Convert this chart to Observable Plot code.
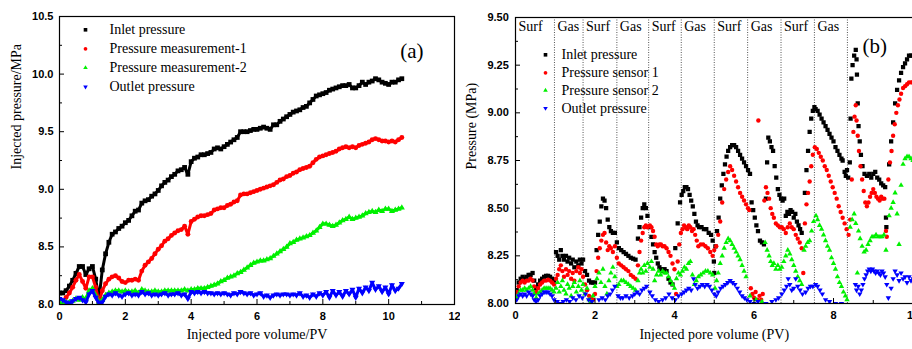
<!DOCTYPE html>
<html>
<head>
<meta charset="utf-8">
<script src="https://cdn.jsdelivr.net/npm/d3@7"></script>
<script src="https://cdn.jsdelivr.net/npm/@observablehq/plot@0.6"></script>
<style>
  html, body { margin: 0; padding: 0; background: #fff; overflow: hidden; }
  #wrap { position: relative; width: 912px; height: 349px; overflow: hidden; background: #fff; }
  #pa { position: absolute; left: 0; top: 0; width: 460px; }
  #pb { position: absolute; left: 460px; top: 0; width: 470px; }
  #wrap svg { max-width: none !important; }
  #wrap g[aria-label="x-axis tick label"] text,
  #wrap g[aria-label="y-axis tick label"] text {
    font-family: 'Liberation Sans', Arial, sans-serif; font-size: 11px; font-weight: bold; fill: #000;
  }
</style>
</head>
<body>
<div id="wrap"><div id="pa"></div><div id="pb"></div></div>
<script>
// ---------- Panel (a): continuous injection ----------
const pvA = [
  0.0,0.1,0.2,0.3,0.4,0.5,0.6,0.7,0.8,0.9,
  1.0,1.1,1.2,1.3,1.4,1.5,1.6,1.7,1.8,1.9,
  2.0,2.1,2.2,2.3,2.4,2.5,2.6,2.7,2.8,2.9,
  3.0,3.1,3.2,3.3,3.4,3.5,3.6,3.7,3.8,3.9,
  4.0,4.1,4.2,4.3,4.4,4.5,4.6,4.7,4.8,4.9,
  5.0,5.1,5.2,5.3,5.4,5.5,5.6,5.7,5.8,5.9,
  6.0,6.1,6.2,6.3,6.4,6.5,6.6,6.7,6.8,6.9,
  7.0,7.1,7.2,7.3,7.4,7.5,7.6,7.7,7.8,7.9,
  8.0,8.1,8.2,8.3,8.4,8.5,8.6,8.7,8.8,8.9,
  9.0,9.1,9.2,9.3,9.4,9.5,9.6,9.7,9.8,9.9,
  10.0,10.1,10.2,10.3,10.4
];
const inletA = [
  8.10,8.10,8.12,8.16,8.21,8.27,8.33,8.33,8.26,8.31,
  8.33,8.22,8.05,8.30,8.44,8.54,8.61,8.63,8.66,8.68,
  8.71,8.73,8.77,8.81,8.82,8.88,8.90,8.91,8.94,8.96,
  8.99,9.03,9.06,9.08,9.11,9.13,9.16,9.17,9.19,9.13,
  9.24,9.27,9.28,9.30,9.30,9.31,9.32,9.35,9.36,9.35,
  9.37,9.39,9.41,9.43,9.45,9.50,9.50,9.50,9.51,9.52,
  9.52,9.53,9.54,9.53,9.52,9.56,9.56,9.59,9.61,9.63,
  9.65,9.67,9.68,9.69,9.71,9.72,9.75,9.78,9.81,9.82,
  9.83,9.84,9.86,9.87,9.88,9.89,9.90,9.90,9.91,9.88,
  9.88,9.90,9.93,9.91,9.93,9.94,9.96,9.95,9.93,9.92,
  9.91,9.93,9.93,9.95,9.96
];
const meas1A = [
  null,null,8.06,8.10,8.15,8.21,8.26,8.20,8.14,8.24,
  8.24,8.15,8.02,8.12,8.18,8.22,8.24,8.25,8.23,8.20,
  8.19,8.21,8.21,8.22,8.21,8.29,8.34,8.37,8.40,8.44,
  8.48,8.51,8.55,8.57,8.60,8.62,8.64,8.65,8.68,8.61,
  8.72,8.74,8.76,8.77,8.77,8.78,8.79,8.82,8.83,8.84,
  8.84,8.86,8.87,8.89,8.90,8.95,8.96,8.96,8.97,8.98,
  8.99,9.00,9.01,9.02,9.03,9.04,9.06,9.08,9.09,9.11,
  9.12,9.14,9.15,9.17,9.18,9.19,9.20,9.23,9.26,9.28,
  9.29,9.30,9.31,9.32,9.33,9.35,9.36,9.37,9.36,9.37,
  9.36,9.38,9.39,9.40,9.41,9.43,9.44,9.43,9.42,9.42,
  9.41,9.42,9.41,9.43,9.45
];
const meas2A = [
  8.02,8.01,8.02,8.02,8.03,8.05,8.04,8.06,8.05,8.12,
  8.14,8.08,8.02,8.04,8.08,8.10,8.11,8.12,8.12,8.11,
  8.12,8.11,8.11,8.12,8.10,8.13,8.12,8.11,8.11,8.12,
  8.11,8.11,8.12,8.12,8.12,8.12,8.12,8.12,8.13,8.12,
  8.13,8.13,8.14,8.14,8.14,8.15,8.16,8.17,8.18,8.20,
  8.21,8.23,8.24,8.25,8.27,8.28,8.30,8.32,8.34,8.36,
  8.37,8.38,8.38,8.39,8.40,8.42,8.44,8.46,8.48,8.50,
  8.53,8.54,8.56,8.57,8.58,8.59,8.60,8.62,8.64,8.67,
  8.70,8.70,8.69,8.68,8.69,8.71,8.73,8.74,8.76,8.74,
  8.75,8.76,8.77,8.79,8.80,8.81,8.80,8.82,8.81,8.83,
  8.83,8.81,8.82,8.83,8.84
];
const outletA = [
  8.05,8.04,8.02,8.01,8.03,8.05,8.06,8.04,8.02,8.09,
  8.12,8.06,8.01,8.02,8.07,8.09,8.08,8.10,8.08,8.07,
  8.09,8.10,8.08,8.09,8.08,8.11,8.09,8.10,8.08,8.09,
  8.08,8.09,8.10,8.08,8.09,8.09,8.10,8.08,8.09,8.05,
  8.11,8.10,8.11,8.10,8.11,8.10,8.10,8.09,8.10,8.09,
  8.10,8.09,8.08,8.10,8.09,8.11,8.10,8.09,8.10,8.08,
  8.09,8.10,8.07,8.08,8.06,8.08,8.09,8.08,8.09,8.09,
  8.08,8.09,8.08,8.10,8.07,8.08,8.06,8.09,8.07,8.10,
  8.08,8.11,8.06,8.12,8.08,8.11,8.07,8.12,8.09,8.13,
  8.06,8.14,8.10,8.15,8.12,8.19,8.13,8.16,8.11,8.15,
  8.09,8.17,8.12,8.14,8.18
];
const namesA = ["Inlet pressure", "Pressure measurement-1", "Pressure measurement-2", "Outlet pressure"];
const xTicksA = [0, 2, 4, 6, 8, 10, 12];
const xMinorA = [1, 3, 5, 7, 9, 11];
const yTicksA = [8.0, 8.5, 9.0, 9.5, 10.0, 10.5];
const yMinorA = [8.25, 8.75, 9.25, 9.75, 10.25];

// ---------- Panel (b): alternating surfactant / gas slugs ----------
const inletB = [
  [0.03,8.07],[0.08,8.11],[0.13,8.13],[0.18,8.14],[0.23,8.13],[0.28,8.14],[0.33,8.15],[0.38,8.15],[0.43,8.16],[0.47,8.12],
  [0.52,8.08],[0.57,8.10],[0.62,8.12],[0.67,8.13],[0.72,8.14],[0.77,8.145],[0.82,8.145],[0.87,8.14],[0.92,8.13],[0.97,8.12],
  [1.02,8.27],[1.06,8.25],[1.10,8.23],[1.14,8.28],[1.18,8.25],[1.22,8.23],[1.27,8.25],[1.31,8.22],[1.35,8.24],[1.40,8.21],
  [1.44,8.23],[1.48,8.19],[1.53,8.22],[1.58,8.20],[1.62,8.23],[1.66,8.21],[1.70,8.23],
  [1.75,8.17],[1.80,8.15],[1.85,8.12],[1.90,8.11],[1.95,8.11],[2.00,8.11],[2.04,8.28],[2.08,8.36],[2.12,8.43],[2.16,8.51],
  [2.20,8.55],[2.24,8.54],[2.28,8.50],[2.32,8.44],[2.36,8.40],[2.40,8.38],[2.45,8.37],[2.50,8.37],
  [2.55,8.32],[2.60,8.29],[2.66,8.28],[2.72,8.27],[2.78,8.26],[2.84,8.25],[2.90,8.24],[2.96,8.235],[3.02,8.23],[3.08,8.34],
  [3.12,8.40],[3.16,8.45],[3.20,8.50],[3.24,8.52],[3.28,8.50],[3.32,8.46],
  [3.38,8.40],[3.42,8.35],[3.46,8.31],[3.50,8.27],[3.54,8.24],[3.58,8.21],[3.62,8.19],[3.66,8.18],[3.70,8.17],[3.75,8.18],
  [3.80,8.17],[3.85,8.13],[3.90,8.11],[3.95,8.10],[4.02,8.29],[4.08,8.42],
  [4.14,8.53],[4.18,8.57],[4.22,8.59],[4.26,8.61],[4.30,8.61],[4.34,8.60],[4.38,8.57],[4.42,8.54],[4.46,8.51],[4.50,8.47],
  [4.54,8.43],[4.58,8.41],[4.62,8.40],[4.68,8.40],[4.74,8.39],[4.80,8.39],[4.86,8.37],[4.92,8.36],[4.96,8.33],[4.99,8.22],[5.00,8.16],
  [5.03,8.30],[5.07,8.38],[5.11,8.45],[5.15,8.55],[5.19,8.62],[5.23,8.68],[5.27,8.73],[5.31,8.77],[5.35,8.80],[5.40,8.82],
  [5.45,8.83],[5.50,8.83],[5.55,8.82],[5.60,8.80],[5.65,8.78],[5.70,8.76],[5.75,8.74],[5.80,8.72],[5.85,8.70],[5.90,8.68],
  [5.94,8.53],[5.98,8.49],[6.02,8.45],[6.06,8.41],[6.10,8.38],[6.15,8.33],[6.20,8.32],[6.25,8.31],[6.30,8.55],[6.33,8.74],
  [6.36,8.87],[6.40,8.85],[6.44,8.82],[6.48,8.80],[6.52,8.72],[6.56,8.66],[6.60,8.60],[6.64,8.57],[6.68,8.55],[6.72,8.54],[6.76,8.55],
  [6.80,8.46],[6.84,8.48],[6.88,8.47],[6.92,8.49],[6.96,8.48],[7.00,8.45],[7.04,8.47],[7.08,8.43],[7.12,8.41],[7.16,8.39],
  [7.20,8.37],[7.28,8.58],[7.32,8.70],[7.36,8.80],[7.40,8.90],[7.44,8.97],[7.48,9.01],[7.52,9.03],
  [7.55,9.02],[7.60,9.01],[7.65,8.99],[7.70,8.97],[7.75,8.95],[7.80,8.93],[7.85,8.91],[7.90,8.89],[7.95,8.87],[8.00,8.85],
  [8.05,8.82],[8.10,8.80],[8.15,8.78],[8.20,8.76],[8.23,8.75],[8.28,8.69],[8.31,8.67],[8.34,8.70],[8.37,8.66],
  [8.41,8.74],[8.43,8.97],[8.45,9.18],[8.48,9.25],[8.52,9.30],[8.56,9.33],[8.58,9.28],[8.59,9.20],[8.61,9.05],[8.63,8.93],
  [8.66,8.85],[8.69,8.78],[8.73,8.72],[8.78,8.68],[8.84,8.67],[8.90,8.68],[8.95,8.66],[9.00,8.68],[9.05,8.69],[9.10,8.66],
  [9.15,8.65],[9.20,8.63],[9.25,8.62],[9.30,8.61],[9.32,8.45],[9.33,8.40],
  [9.40,8.73],[9.45,8.85],[9.50,8.95],[9.55,9.05],[9.60,9.12],[9.65,9.17],[9.70,9.21],[9.75,9.24],[9.80,9.26],[9.85,9.28],
  [9.90,9.30],[9.95,9.30],[10.00,9.30]
];
const sensor1B = [
  [0.03,8.06],[0.08,8.09],[0.13,8.11],[0.18,8.12],[0.23,8.11],[0.28,8.12],[0.33,8.12],[0.38,8.13],[0.43,8.12],[0.47,8.09],
  [0.52,8.06],[0.57,8.08],[0.62,8.10],[0.67,8.11],[0.72,8.12],[0.77,8.12],[0.82,8.125],[0.87,8.12],[0.92,8.11],[0.97,8.10],
  [1.02,8.13],[1.06,8.15],[1.10,8.18],[1.14,8.20],[1.18,8.17],[1.22,8.14],[1.27,8.18],[1.31,8.15],[1.35,8.17],[1.40,8.13],
  [1.44,8.16],[1.48,8.12],[1.53,8.17],[1.58,8.19],[1.62,8.16],[1.66,8.18],[1.70,8.14],
  [1.75,8.10],[1.80,8.07],[1.85,8.04],[1.90,8.03],[1.95,8.02],[2.00,8.05],[2.04,8.17],[2.08,8.24],[2.12,8.29],[2.16,8.33],
  [2.20,8.36],[2.24,8.37],[2.28,8.32],[2.32,8.28],[2.36,8.30],[2.40,8.29],[2.45,8.27],[2.50,8.30],
  [2.55,8.24],[2.60,8.21],[2.66,8.20],[2.72,8.19],[2.78,8.18],[2.84,8.17],[2.90,8.15],[2.96,8.14],[3.02,8.13],[3.08,8.20],
  [3.12,8.27],[3.16,8.33],[3.20,8.37],[3.24,8.40],[3.28,8.41],[3.32,8.40],
  [3.38,8.41],[3.42,8.40],[3.46,8.38],[3.50,8.35],[3.54,8.31],[3.58,8.30],[3.62,8.31],[3.66,8.31],[3.70,8.30],[3.75,8.30],
  [3.80,8.29],[3.85,8.27],[3.90,8.25],[3.95,8.21],[4.00,8.18],[4.04,8.05],[4.08,8.22],[4.12,8.31],
  [4.16,8.37],[4.20,8.39],[4.24,8.41],[4.28,8.40],[4.32,8.39],[4.36,8.41],[4.40,8.40],[4.44,8.38],[4.48,8.39],[4.52,8.36],
  [4.56,8.33],[4.60,8.30],[4.66,8.31],[4.72,8.31],[4.78,8.30],[4.84,8.29],[4.90,8.27],[4.96,8.25],[5.00,8.28],
  [5.05,8.30],[5.10,8.36],[5.15,8.43],[5.20,8.53],[5.25,8.60],[5.30,8.65],[5.35,8.69],[5.40,8.72],[5.45,8.70],[5.50,8.67],
  [5.55,8.64],[5.60,8.61],[5.65,8.58],[5.70,8.56],[5.75,8.54],[5.80,8.52],[5.85,8.50],[5.88,8.49],
  [5.92,8.08],[5.96,8.05],[6.00,8.03],[6.04,8.06],[6.08,8.02],[6.11,8.96],[6.14,8.04],[6.18,8.02],[6.22,8.05],
  [6.26,8.54],[6.30,8.61],[6.34,8.58],[6.38,8.55],[6.42,8.50],[6.46,8.47],[6.50,8.45],[6.55,8.42],[6.60,8.41],[6.65,8.40],
  [6.70,8.40],[6.75,8.39],[6.80,8.37],[6.85,8.40],[6.90,8.42],[6.95,8.40],[7.00,8.39],[7.05,8.36],[7.10,8.34],[7.15,8.32],
  [7.20,8.29],[7.24,8.16],[7.28,8.42],[7.32,8.52],[7.36,8.58],[7.40,8.64],[7.44,8.72],[7.48,8.78],[7.53,8.82],
  [7.58,8.81],[7.63,8.79],[7.68,8.77],[7.73,8.75],[7.78,8.72],[7.83,8.70],[7.88,8.67],[7.93,8.64],[7.98,8.61],[8.03,8.58],
  [8.08,8.55],[8.13,8.51],[8.18,8.48],[8.23,8.45],[8.28,8.42],[8.33,8.39],[8.38,8.36],[8.42,8.44],[8.46,8.65],
  [8.50,8.90],[8.53,8.98],[8.56,9.04],[8.58,8.96],[8.61,8.88],[8.64,8.80],[8.68,8.72],[8.72,8.65],[8.76,8.59],[8.80,8.53],
  [8.84,8.51],[8.88,8.53],[8.92,8.56],[8.96,8.58],[9.00,8.60],[9.04,8.58],[9.08,8.56],[9.12,8.55],[9.16,8.54],[9.20,8.56],
  [9.24,8.55],[9.28,8.55],[9.32,8.38],[9.34,8.35],
  [9.38,8.65],[9.42,8.74],[9.46,8.80],[9.50,8.88],[9.54,8.94],[9.58,9.00],[9.62,9.04],[9.66,9.07],[9.70,9.10],[9.75,9.13],
  [9.80,9.14],[9.85,9.15],[9.90,9.16],[9.95,9.16],[10.00,9.16]
];
const sensor2B = [
  [0.03,8.03],[0.08,8.05],[0.13,8.07],[0.18,8.07],[0.23,8.08],[0.28,8.07],[0.33,8.08],[0.38,8.09],[0.43,8.07],[0.47,8.05],
  [0.52,8.03],[0.57,8.05],[0.62,8.06],[0.67,8.07],[0.72,8.08],[0.77,8.08],[0.82,8.08],[0.87,8.08],[0.92,8.07],[0.97,8.06],
  [1.02,8.08],[1.06,8.11],[1.10,8.06],[1.14,8.09],[1.18,8.12],[1.22,8.07],[1.27,8.05],[1.31,8.10],[1.35,8.08],[1.40,8.04],
  [1.44,8.09],[1.48,8.11],[1.53,8.06],[1.58,8.09],[1.62,8.12],[1.66,8.07],[1.70,8.10],
  [1.75,8.05],[1.80,8.08],[1.85,8.02],[1.90,8.01],[1.95,8.04],[2.00,8.09],[2.05,8.13],[2.10,8.16],[2.15,8.11],[2.20,8.18],
  [2.25,8.09],[2.30,8.05],[2.35,8.12],[2.40,8.16],[2.45,8.19],[2.50,8.14],
  [2.55,8.09],[2.60,8.10],[2.66,8.12],[2.72,8.12],[2.78,8.11],[2.84,8.10],[2.90,8.09],[2.96,8.08],[3.02,8.07],[3.08,8.12],
  [3.12,8.16],[3.16,8.18],[3.20,8.16],[3.24,8.20],[3.28,8.17],[3.32,8.21],
  [3.38,8.19],[3.42,8.22],[3.46,8.18],[3.50,8.12],[3.55,8.15],[3.60,8.17],[3.65,8.15],[3.70,8.17],[3.75,8.16],[3.80,8.16],
  [3.85,8.14],[3.90,8.12],[3.95,8.10],[4.00,8.08],[4.05,8.13],[4.10,8.16],
  [4.15,8.15],[4.20,8.17],[4.25,8.19],[4.30,8.18],[4.35,8.21],[4.40,8.22],[4.45,8.15],[4.50,8.10],[4.55,8.12],[4.60,8.14],
  [4.66,8.15],[4.72,8.16],[4.78,8.17],[4.84,8.17],[4.90,8.16],[4.96,8.15],
  [5.02,8.08],[5.06,8.12],[5.10,8.16],[5.15,8.21],[5.20,8.25],[5.25,8.29],[5.30,8.32],[5.35,8.34],[5.40,8.33],[5.45,8.31],
  [5.50,8.29],[5.55,8.27],[5.60,8.25],[5.65,8.23],[5.70,8.20],[5.75,8.17],[5.80,8.14],
  [5.90,8.04],[6.05,8.02],[6.20,8.01],[6.28,8.32],[6.33,8.28],[6.38,8.25],[6.42,8.22],[6.46,8.20],[6.50,8.21],[6.55,8.18],
  [6.60,8.20],[6.65,8.18],
  [6.70,8.19],[6.75,8.22],[6.80,8.25],[6.85,8.28],[6.90,8.26],[6.95,8.23],[7.00,8.20],[7.05,8.17],[7.10,8.14],[7.15,8.12],
  [7.20,8.10],[7.26,8.28],[7.30,8.30],[7.35,8.32],[7.40,8.33],[7.45,8.38],[7.50,8.43],
  [7.56,8.46],[7.60,8.44],[7.65,8.41],[7.70,8.39],[7.75,8.36],[7.80,8.33],[7.85,8.30],[7.90,8.28],[7.95,8.24],[8.00,8.21],
  [8.05,8.18],[8.10,8.14],[8.15,8.11],[8.20,8.09],[8.25,8.06],[8.30,8.04],[8.34,8.02],
  [8.42,8.40],[8.47,8.44],[8.52,8.47],[8.56,8.42],[8.60,8.16],[8.63,8.38],[8.67,8.34],[8.72,8.30],[8.77,8.27],[8.82,8.28],
  [8.87,8.31],[8.92,8.33],[8.97,8.35],[9.02,8.35],[9.07,8.36],[9.12,8.35],[9.17,8.35],[9.22,8.35],[9.27,8.36],[9.32,8.28],
  [9.40,8.46],[9.45,8.50],[9.50,8.53],[9.55,8.58],[9.60,8.47],[9.65,8.31],[9.70,8.62],[9.75,8.73],[9.80,8.76],[9.85,8.77],
  [9.90,8.77],[9.95,8.76],[10.00,8.75]
];
const outletB = [
  [0.03,8.02],[0.08,8.04],[0.13,8.05],[0.18,8.04],[0.23,8.05],[0.28,8.04],[0.33,8.06],[0.38,8.05],[0.43,8.04],[0.47,8.02],
  [0.52,8.01],[0.57,8.02],[0.62,8.04],[0.67,8.05],[0.72,8.06],[0.77,8.06],[0.82,8.06],[0.87,8.05],[0.92,8.04],[0.97,8.02],
  [1.05,8.01],[1.12,8.00],[1.20,8.01],[1.28,8.02],[1.36,8.01],[1.44,8.03],[1.52,8.02],[1.60,8.04],[1.68,8.03],
  [1.76,8.05],[1.84,8.02],[1.92,8.01],[2.10,8.02],[2.18,8.03],[2.26,8.02],[2.32,8.04],[2.38,8.05],[2.44,8.07],[2.50,8.09],
  [2.58,8.04],[2.64,8.03],[2.70,8.03],[2.78,8.04],[2.86,8.03],[2.94,8.04],[3.00,8.05],[3.06,8.06],[3.12,8.05],[3.18,8.07],
  [3.24,8.08],[3.30,8.09],
  [3.38,8.06],[3.44,8.04],[3.52,8.02],[3.60,8.01],[3.70,8.02],[3.78,8.03],[3.86,8.05],[3.94,8.03],[4.02,8.02],[4.10,8.04],
  [4.18,8.05],[4.24,8.06],[4.30,8.07],[4.36,8.08],[4.42,8.07],[4.48,8.13],[4.52,8.10],[4.58,8.08],[4.64,8.09],[4.70,8.10],
  [4.76,8.09],[4.82,8.10],[4.88,8.09],[4.94,8.07],[5.00,8.05],
  [5.05,8.04],[5.10,8.06],[5.16,8.08],[5.22,8.09],[5.28,8.10],[5.34,8.11],[5.40,8.12],[5.46,8.11],[5.52,8.10],[5.58,8.08],
  [5.64,8.06],[5.70,8.04],[5.76,8.03],[5.82,8.02],
  [5.90,8.01],[6.00,8.00],[6.10,8.01],[6.30,8.00],[6.45,8.01],[6.55,8.02],[6.62,8.03],
  [6.70,8.05],[6.76,8.07],[6.82,8.09],[6.86,8.13],[6.90,8.10],[6.95,8.07],[7.00,8.08],[7.05,8.13],[7.10,8.09],[7.16,8.07],
  [7.22,8.05],[7.30,8.06],[7.36,8.08],[7.42,8.09],[7.48,8.09],
  [7.55,8.10],[7.60,8.09],[7.66,8.07],[7.72,8.05],[7.80,8.02],[7.90,8.01],[8.05,8.00],[8.20,8.00],
  [8.55,8.10],[8.58,8.07],[8.62,8.09],[8.66,8.05],[8.70,8.07],[8.74,8.10],[8.78,8.13],[8.82,8.15],[8.86,8.17],[8.90,8.18],
  [8.94,8.17],[8.98,8.18],[9.02,8.17],[9.06,8.16],[9.10,8.17],[9.14,8.16],[9.18,8.15],[9.22,8.17],[9.26,8.16],[9.30,8.14],
  [9.34,8.10],[9.38,8.03],
  [9.45,8.08],[9.50,8.13],[9.55,8.17],[9.60,8.15],[9.65,8.12],[9.70,8.16],[9.75,8.13],[9.80,8.14],[9.85,8.11],[9.90,8.14],
  [9.95,8.12],[10.00,8.13]
];
const namesB = ["Inlet pressure", "Pressure sensor 1", "Pressure sensor 2", "Outlet pressure"];
// slug boundaries (PV) and the phase injected from each boundary on
const slugStart = [0, 0.98, 1.70, 2.55, 3.35, 4.17, 5.00, 5.84, 6.68, 7.52];
const slugPhase = ["Surf", "Gas", "Surf", "Gas", "Surf", "Gas", "Surf", "Gas", "Surf", "Gas"];
const slugLines = [0.98, 1.70, 2.55, 3.35, 4.17, 5.00, 5.84, 6.68, 7.52, 8.35];
const xTicksB = [0, 2, 4, 6, 8, 10];
const xMinorB = [1, 3, 5, 7, 9];
const yTicksB = [8.00, 8.25, 8.50, 8.75, 9.00, 9.25, 9.50];
const yMinorB = [8.125, 8.375, 8.625, 8.875, 9.125, 9.375];

// ---------- shared styling ----------
const SERIF = "'Liberation Serif', 'Times New Roman', serif";
const markers = [
  {symbol: "square",   fill: "#000000", r: 2.4, rotate: 0},
  {symbol: "circle",   fill: "#ff0000", r: 2.2, rotate: 0},
  {symbol: "triangle", fill: "#00f000", r: 2.0, rotate: 0},
  {symbol: "triangle", fill: "#0000ff", r: 2.0, rotate: 180}
];

function fromColumns(xs, ys) {
  return xs.map((x, i) => ({x, y: ys[i]})).filter(d => d.y != null);
}
function fromPairs(pairs) {
  return pairs.map(([x, y]) => ({x, y}));
}

// scatter markers for one series; `scale` enlarges them
function dotMark(data, i, scale = 1) {
  return Plot.dot(data, {
    x: "x", y: "y", symbol: markers[i].symbol, r: markers[i].r * scale,
    rotate: markers[i].rotate, fill: markers[i].fill, stroke: null, clip: true
  });
}
// a trace under the markers so a densely logged record reads as a solid band
function traceMark(data, i) {
  return Plot.line(data, {x: "x", y: "y", stroke: markers[i].fill, strokeWidth: 3, clip: true});
}

function legendMarks(names, {markerDx, textDx, rowDy}) {
  const out = [];
  names.forEach((name, i) => {
    out.push(Plot.dot([name], {
      frameAnchor: "top-left", dx: markerDx, dy: rowDy[i],
      symbol: markers[i].symbol, r: markers[i].r * 0.85, rotate: markers[i].rotate,
      fill: markers[i].fill, stroke: null
    }));
    out.push(Plot.text([name], {
      frameAnchor: "top-left", dx: textDx, dy: rowDy[i], text: d => d,
      textAnchor: "start", lineAnchor: "middle",
      fontFamily: SERIF, fontSize: 14, fill: "#000"
    }));
  });
  return out;
}

function axisMarks({xMajor, xMinor, yMajor, yMinor, yFormat, xPad, yPad}) {
  return [
    Plot.axisX(xMajor, {tickSize: -5, tickPadding: xPad, tickFormat: d3.format("d"), label: null}),
    Plot.axisX(xMinor, {tickSize: -3, tickFormat: () => "", label: null}),
    Plot.axisY(yMajor, {tickSize: -5, tickPadding: yPad, tickFormat: yFormat, label: null}),
    Plot.axisY(yMinor, {tickSize: -3, tickFormat: () => "", label: null}),
    Plot.frame({stroke: "#000", strokeWidth: 1.2})
  ];
}

// ---------- draw panel (a) ----------
const seriesA = [inletA, meas1A, meas2A, outletA].map(ys => fromColumns(pvA, ys));
const chartA = Plot.plot({
  width: 460, height: 349,
  marginLeft: 59, marginRight: 6, marginTop: 16, marginBottom: 45,
  x: {domain: [0, 12]},
  y: {domain: [8, 10.5]},
  style: {background: "transparent", color: "#000", maxWidth: "none"},
  marks: [
    ...seriesA.flatMap((data, i) => [traceMark(data, i), dotMark(data, i, 1.12)]),
    ...axisMarks({xMajor: xTicksA, xMinor: xMinorA, yMajor: yTicksA, yMinor: yMinorA,
                  yFormat: d3.format(".1f"), xPad: 13, yPad: 11}),
    Plot.text(["Injected pore volume/PV"], {frameAnchor: "bottom", dy: 34, text: d => d,
      fontFamily: SERIF, fontSize: 14, fill: "#000"}),
    Plot.text(["Injected pressure/MPa"], {frameAnchor: "left", dx: -43, dy: 9, rotate: -90, text: d => d,
      fontFamily: SERIF, fontSize: 14, fill: "#000"}),
    ...legendMarks(namesA, {markerDx: 26, textDx: 50, rowDy: [13.3, 32.3, 51.3, 70.3]}),
    Plot.text(["(a)"], {frameAnchor: "top-right", dx: -31, dy: 27, text: d => d,
      fontFamily: SERIF, fontSize: 21, fill: "#000"})
  ]
});
document.getElementById("pa").append(chartA);

// ---------- draw panel (b) ----------
const seriesB = [inletB, sensor1B, sensor2B, outletB].map(fromPairs);
const slugs = slugStart.map((x, i) => ({x, phase: slugPhase[i]}));
const chartB = Plot.plot({
  width: 470, height: 349,
  marginLeft: 55, marginRight: 17.5, marginTop: 17, marginBottom: 46,
  x: {domain: [0, 10]},
  y: {domain: [8, 9.5]},
  style: {background: "transparent", color: "#000", maxWidth: "none"},
  marks: [
    Plot.ruleX(slugLines, {stroke: "#555", strokeWidth: 1, strokeDasharray: "1,1.5"}),
    Plot.text(slugs, {x: "x", frameAnchor: "top", dy: 9, dx: 3, text: "phase", textAnchor: "start",
      lineAnchor: "middle", fontFamily: SERIF, fontSize: 14, fill: "#000"}),
    ...seriesB.map((data, i) => dotMark(data, i)),
    ...axisMarks({xMajor: xTicksB, xMinor: xMinorB, yMajor: yTicksB, yMinor: yMinorB,
                  yFormat: d3.format(".2f"), xPad: 13, yPad: 11.7}),
    Plot.text(["Injected pore volume (PV)"], {frameAnchor: "bottom", dy: 35, text: d => d,
      fontFamily: SERIF, fontSize: 14, fill: "#000"}),
    Plot.text(["Pressure (MPa)"], {frameAnchor: "left", dx: -44, dy: 9, rotate: -90, text: d => d,
      fontFamily: SERIF, fontSize: 14, fill: "#000"}),
    ...legendMarks(namesB, {markerDx: 30, textDx: 46, rowDy: [37.3, 55.3, 73, 90.7]}),
    Plot.text(["(b)"], {frameAnchor: "top-right", dx: -26, dy: 21, text: d => d,
      fontFamily: SERIF, fontSize: 21, fill: "#000"})
  ]
});
document.getElementById("pb").append(chartB);
</script>
</body>
</html>
